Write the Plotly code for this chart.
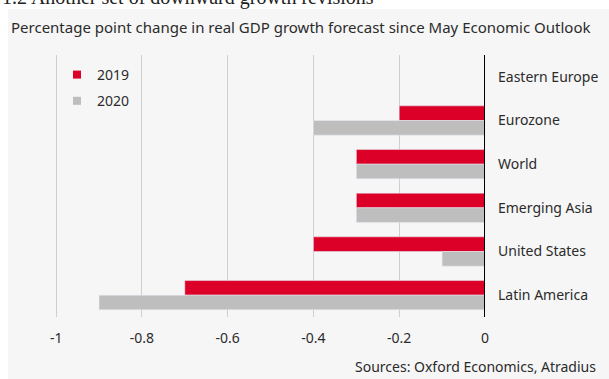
import plotly.graph_objects as go

# Forecast revisions (percentage points) by region
regions = ["Eastern Europe", "Eurozone", "World", "Emerging Asia", "United States", "Latin America"]
rev_2019 = [0.0, -0.2, -0.3, -0.3, -0.4, -0.7]
rev_2020 = [0.0, -0.4, -0.3, -0.3, -0.1, -0.9]
x_ticks = [-1, -0.8, -0.6, -0.4, -0.2, 0]
x_tick_text = ["-1", "-0.8", "-0.6", "-0.4", "-0.2", "0"]

RED = "#dc0028"
GREY = "#bebebe"
TEXT = "#2b2b2b"
FONT = "Noto Sans"

W, H = 609, 379
L, R, T, B = 39, 124, 55, 62
pw, ph = W - L - R, H - T - B


def px_x(p):
    return (p - L) / pw


def px_y(p):
    return (H - B - p) / ph


fig = go.Figure()
fig.add_trace(go.Bar(y=regions, x=rev_2019, orientation="h", marker_color=RED,
                     name="2019", showlegend=False))
fig.add_trace(go.Bar(y=regions, x=rev_2020, orientation="h", marker_color=GREY,
                     name="2020", showlegend=False))

# legend entries with small square swatches
for nm, col in [("2019", RED), ("2020", GREY)]:
    fig.add_trace(go.Scatter(x=[None], y=[None], mode="markers", name=nm, legendgroup=nm,
                             marker=dict(symbol="square", size=8, color=col)))

fig.update_layout(
    width=W, height=H,
    margin=dict(l=L, r=R, t=T, b=B),
    paper_bgcolor="white",
    plot_bgcolor="rgba(0,0,0,0)",
    barmode="group",
    bargap=0.33,
    bargroupgap=0,
    font=dict(family=FONT, size=14, color=TEXT),
    xaxis=dict(range=[-1.04, 0], tickvals=x_ticks, ticktext=x_tick_text,
               showgrid=True, gridcolor="#cfcfcf", gridwidth=1,
               zeroline=False, showline=False, ticks="",
               ticklabelstandoff=11, tickfont=dict(size=14, color=TEXT)),
    yaxis=dict(categoryorder="array", categoryarray=regions, autorange="reversed",
               side="right", showgrid=False, zeroline=False, showline=False, ticks="",
               ticklabelstandoff=12, tickfont=dict(size=14, color=TEXT)),
    legend=dict(x=px_x(57), y=px_y(59), xanchor="left", yanchor="top",
                bgcolor="rgba(0,0,0,0)", font=dict(size=14, color=TEXT),
                traceorder="grouped", tracegroupgap=5, itemwidth=30),
    showlegend=True,
    shapes=[
        # light panel behind the chart
        dict(type="rect", xref="paper", yref="paper", layer="below",
             x0=px_x(8), x1=px_x(W + 2), y0=px_y(H + 2), y1=px_y(9),
             fillcolor="#f6f6f6", line=dict(width=0)),
        # zero reference line
        dict(type="line", xref="x", yref="paper", x0=0, x1=0, y0=0, y1=1,
             line=dict(color="black", width=2), layer="above"),
    ],
    annotations=[
        dict(text="1.2 Another set of downward growth revisions", xref="paper", yref="paper",
             x=px_x(0), y=px_y(11), xanchor="left", yanchor="bottom", showarrow=False,
             font=dict(family="Liberation Serif", size=20, color="#222")),
        dict(text="Percentage point change in real GDP growth forecast since May Economic Outlook",
             xref="paper", yref="paper", x=px_x(9), y=px_y(27), xanchor="left", yanchor="middle",
             showarrow=False, font=dict(family=FONT, size=15, color=TEXT)),
        dict(text="Sources: Oxford Economics, Atradius", xref="paper", yref="paper",
             x=px_x(598), y=px_y(366), xanchor="right", yanchor="middle", showarrow=False,
             font=dict(family=FONT, size=14, color=TEXT)),
    ],
)

fig.write_html("out.html")
